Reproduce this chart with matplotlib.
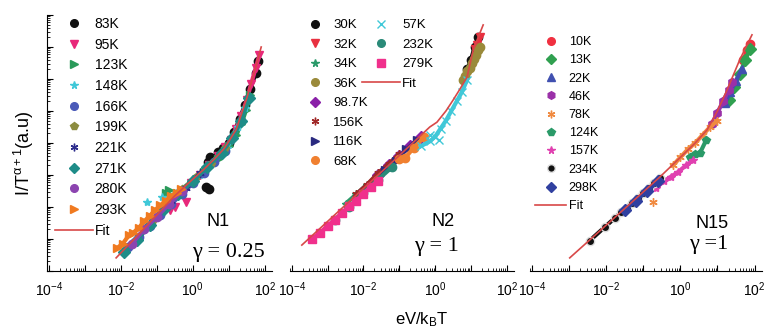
import numpy as np
import matplotlib
matplotlib.use("Agg")
import matplotlib.pyplot as plt
from matplotlib.ticker import LogLocator, NullFormatter
from matplotlib.lines import Line2D

plt.rcParams['font.family'] = ['Liberation Sans', 'DejaVu Sans']
plt.rcParams['mathtext.fontset'] = 'custom'
plt.rcParams['mathtext.rm'] = 'Liberation Sans'
plt.rcParams['mathtext.it'] = 'Liberation Sans:italic'
plt.rcParams['mathtext.default'] = 'regular'

# all data below are log10 values
# (x = eV/kBT, y = I/T^(a+1) in arbitrary units)
# each series = its dense band of points; *_out = the few points lying off the band

# ---- panel N1 ----
n1_labels = ['83K', '95K', '123K', '148K', '166K', '199K', '221K', '271K', '280K', '293K']
n1_colors = ['#111111', '#e8287a', '#2a9a5a', '#40c8d8', '#4a5ab8', '#8c8c40', '#2c2c8c', '#1e8c88', '#8c44b0', '#f07a20']
n1_markers = ['o', 'v', '>', '*', 'o', 'p', (6, 2, 0), 'D', 'o', '>']
n1_lx = [
    [0.55, 0.71, 0.85, 1.0, 1.15, 1.3, 1.45, 1.6, 1.75, 1.82],
    [-0.3, -0.05, 0.2, 0.45, 0.7, 0.9, 1.05, 1.2, 1.35, 1.5, 1.62, 1.75, 1.85],
    [0.3, 0.7, 1.0, 1.2, 1.35, 1.48, 1.6],
    [-0.5, 0.2, 0.6, 0.95, 1.25, 1.45],
    [-1.8, -1.5, -1.2, -0.9, -0.6, -0.3, 0.0, 0.3, 0.6, 0.9],
    [-1.1, -0.7, -0.3, 0.1, 0.5, 0.9],
    [-1.4, -1.0, -0.6, -0.2, 0.2],
    [-1.9, -1.55, -1.2, -0.8, -0.4, 0.0, 0.4, 0.8, 1.1, 1.35, 1.55],
    [-1.7, -1.35, -1.0, -0.65, -0.3],
    [-2.1, -1.95, -1.77, -1.65, -1.5, -1.35, -1.2, -1.05, -0.9, -0.75, -0.6, -0.45, -0.34],
]
n1_ly = [
    [3.5, 3.72, 3.85, 4.0, 4.35, 4.75, 5.2, 5.7, 6.19, 6.55],
    [2.5, 2.75, 3.0, 3.3, 3.6, 3.88, 4.1, 4.45, 4.85, 5.35, 5.85, 6.35, 6.75],
    [3.1, 3.5, 3.9, 4.25, 4.6, 5.03, 5.5],
    [2.4, 3.0, 3.4, 3.85, 4.5, 5.1],
    [0.75, 1.05, 1.4, 1.75, 2.1, 2.4, 2.75, 3.05, 3.4, 3.75],
    [1.6, 2.1, 2.55, 2.95, 3.35, 3.85],
    [1.25, 1.7, 2.2, 2.6, 3.05],
    [0.6, 0.97, 1.45, 1.95, 2.4, 2.8, 3.25, 3.7, 4.15, 4.7, 5.4],
    [0.85, 1.3, 1.7, 2.1, 2.5],
    [0.72, 0.85, 1.12, 1.2, 1.35, 1.55, 1.72, 1.9, 2.05, 2.2, 2.35, 2.45, 2.55],
]
n1_out_idx = [0, 0, 0, 0, 1, 1, 1, 2, 2, 2, 3, 3]
n1_out_lx = [0.38, 0.45, 0.49, 0.42, -0.62, -0.2, -0.5, -0.67, -0.45, -0.75, -1.28, -0.86]
n1_out_ly = [2.63, 2.55, 3.56, 3.4, 1.9, 2.16, 2.0, 2.53, 2.45, 2.45, 2.16, 2.3]
n1_fit_lx = [-2.13, -1.5, -1.0, -0.5, 0.0, 0.3, 0.6, 0.85, 1.0, 1.2, 1.35, 1.5, 1.6, 1.75, 1.9]
n1_fit_ly = [0.41, 1.15, 1.75, 2.35, 2.87, 3.17, 3.5, 3.8, 4.05, 4.41, 4.9, 5.4, 5.8, 6.38, 7.0]

# ---- panel N2 ----
n2_labels = ['30K', '32K', '34K', '36K', '98.7K', '156K', '116K', '68K', '57K', '232K', '279K']
n2_colors = ['#111111', '#e83040', '#2a9a6a', '#9a8a3a', '#8a20a8', '#a02828', '#2a2a80', '#f08030', '#40c8d8', '#2a8a78', '#f0308c']
n2_markers = ['o', 'v', '*', 'o', 'D', (6, 2, 0), '>', 'o', 'x', 'o', 's']
n2_lx = [
    [0.9, 1.0, 1.1, 1.2],
    [1.1, 1.17, 1.25],
    [-2.5, -2.2, -1.9, -1.6],
    [0.78, 0.84, 0.9, 0.96, 1.02, 1.08, 1.14, 1.2, 1.25],
    [-1.6, -1.3, -1.0, -0.7, -0.4],
    [-2.2, -1.9, -1.6, -1.3, -1.0],
    [-1.4, -1.1, -0.8, -0.5],
    [-1.0, -0.84, -0.6, -0.3],
    [-0.4, -0.15, 0.0, 0.15, 0.3, 0.45, 0.6, 0.75, 0.89],
    [-2.8, -2.4, -2.0, -1.6, -1.2],
    [-3.45, -3.2, -3.0, -2.8, -2.6, -2.4, -2.2, -2.0, -1.8, -1.6],
]
n2_ly = [
    [6.3, 6.6, 7.0, 7.3],
    [6.95, 7.06, 7.3],
    [2.1, 2.4, 2.7, 3.0],
    [5.97, 6.1, 6.25, 6.35, 6.5, 6.62, 6.75, 6.9, 7.0],
    [3.0, 3.3, 3.6, 3.9, 4.2],
    [2.4, 2.7, 3.05, 3.35, 3.65],
    [3.15, 3.45, 3.8, 4.1],
    [3.5, 3.53, 3.85, 4.2],
    [3.9, 4.05, 4.2, 4.45, 4.7, 5.0, 5.3, 5.6, 5.97],
    [1.6, 2.0, 2.45, 2.85, 3.25],
    [1.0, 1.2, 1.42, 1.6, 1.82, 2.02, 2.2, 2.42, 2.62, 2.82],
]
n2_out_idx = [8, 8]
n2_out_lx = [-0.15, 0.1]
n2_out_ly = [4.25, 4.1]
n2_fit_lx = [-3.72, -3.0, -2.0, -1.0, -0.15, 0.05, 0.3, 0.5, 0.7, 0.89, 1.06, 1.2, 1.34]
n2_fit_ly = [0.81, 1.55, 2.58, 3.61, 4.5, 4.65, 5.0, 5.34, 5.7, 6.06, 6.9, 7.3, 7.69]

# ---- panel N15 ----
n3_labels = ['10K', '13K', '22K', '46K', '78K', '124K', '157K', '234K', '298K']
n3_colors = ['#f03040', '#30a050', '#4050b0', '#9a30a8', '#f08a40', '#2a9a68', '#e040b0', '#111111', '#3040a0']
n3_markers = ['o', 'D', '^', 'h', (6, 2, 0), 'p', '*', 'o', 'D']
n3_lx = [
    [1.7, 1.8, 1.88],
    [1.3, 1.45, 1.6, 1.75, 1.88],
    [1.2, 1.35, 1.5, 1.65],
    [0.85, 1.0, 1.15, 1.3, 1.4],
    [-0.2, 0.0, 0.2, 0.4, 0.6, 0.8, 1.0],
    [0.25, 0.4, 0.53, 0.7],
    [-0.65, -0.45, -0.25, -0.05, 0.15, 0.35],
    [-2.44, -2.03, -1.76, -1.6, -1.45, -1.3, -1.15, -1.0, -0.85, -0.7, -0.55],
    [-1.5, -1.2, -0.9, -0.6],
]
n3_ly = [
    [6.6, 6.9, 7.1],
    [5.35, 5.75, 6.15, 6.6, 6.95],
    [5.25, 5.6, 5.95, 6.3],
    [4.6, 4.95, 5.3, 5.65, 5.9],
    [3.3, 3.55, 3.8, 4.0, 4.25, 4.5, 4.7],
    [3.55, 3.65, 3.69, 4.1],
    [2.6, 2.8, 2.95, 3.1, 3.3, 3.47],
    [0.95, 1.38, 1.66, 1.83, 1.98, 2.14, 2.29, 2.45, 2.6, 2.76, 2.92],
    [1.9, 2.2, 2.5, 2.8],
]
n3_out_idx = [4]
n3_out_lx = [-0.74]
n3_out_ly = [2.16]
n3_fit_lx = [-2.98, -2.0, -1.0, -0.55, 0.0, 0.4, 0.72, 1.0, 1.26, 1.6, 1.93]
n3_fit_ly = [0.41, 1.43, 2.47, 2.94, 3.55, 4.0, 4.41, 5.0, 5.66, 6.6, 7.38]

fit_color = '#d84848'
xticks = [1e-4, 1e-3, 1e-2, 1e-1, 1e0, 1e1, 1e2]
xticklabels = ['$10^{-4}$', '', '$10^{-2}$', '', '$10^{0}$', '', '$10^{2}$']

W, H = 767, 332
fig = plt.figure(figsize=(W / 100, H / 100), dpi=100)


def px_axes(left, right, top, bottom):
    return fig.add_axes([left / W, 1 - bottom / H, (right - left) / W, (bottom - top) / H])


def setup(ax, show_y):
    ax.set_xscale('log')
    ax.set_yscale('log')
    ax.set_xlim(10 ** -4.05, 10 ** 2.2)
    ax.set_ylim(1, 1e8)
    ax.set_xticks(xticks)
    ax.set_xticklabels(xticklabels)
    ax.xaxis.set_minor_locator(LogLocator(base=10, subs=np.arange(2, 10), numticks=20))
    ax.xaxis.set_minor_formatter(NullFormatter())
    ax.tick_params(axis='x', which='major', direction='in', length=4, width=0.8, labelsize=10, pad=7)
    ax.tick_params(axis='x', which='minor', direction='in', length=2, width=0.6)
    ax.spines['top'].set_visible(False)
    ax.spines['right'].set_visible(False)
    if show_y:
        ax.yaxis.set_major_locator(LogLocator(base=10, numticks=20))
        ax.yaxis.set_minor_locator(LogLocator(base=10, subs=np.arange(2, 10), numticks=20))
        ax.yaxis.set_major_formatter(NullFormatter())
        ax.yaxis.set_minor_formatter(NullFormatter())
        ax.tick_params(axis='y', which='major', direction='in', length=4, width=0.8)
        ax.tick_params(axis='y', which='minor', direction='in', length=2, width=0.6)
    else:
        ax.spines['left'].set_visible(False)
        ax.tick_params(axis='y', which='both', left=False, labelleft=False)
    ax.patch.set_alpha(0)


def draw(ax, lxs, lys, colors, markers, out_idx, out_lx, out_ly, fit_lx, fit_ly, edges=None):
    for i in range(len(lxs)):
        c = colors[i]
        ec = edges[i] if edges is not None else c
        ax.plot(10 ** np.array(lxs[i]), 10 ** np.array(lys[i]), ls='-', lw=3, marker=markers[i],
                ms=6, color=c, mec=ec, mew=1.0)
        for k in range(len(out_idx)):
            if out_idx[k] == i:
                ax.plot(10 ** out_lx[k], 10 ** out_ly[k], ls='none', marker=markers[i],
                        ms=6, color=c, mec=ec, mew=1.0)
    ax.plot(10 ** np.array(fit_lx), 10 ** np.array(fit_ly), color=fit_color, lw=1.2)


def handles_for(colors, markers, edges=None):
    hs = []
    for i in range(len(colors)):
        ec = edges[i] if edges is not None else colors[i]
        hs.append(Line2D([], [], ls='none', marker=markers[i], ms=5.5, color=colors[i], mec=ec, mew=1.0))
    return hs


fit_handle = Line2D([], [], color=fit_color, lw=1.2)

ax1 = px_axes(47, 272, 15, 271)
ax2 = px_axes(290, 514, 15, 271)
ax3 = px_axes(530, 762, 15, 271)
setup(ax1, True)
setup(ax2, False)
setup(ax3, False)

draw(ax1, n1_lx, n1_ly, n1_colors, n1_markers, n1_out_idx, n1_out_lx, n1_out_ly, n1_fit_lx, n1_fit_ly)
draw(ax2, n2_lx, n2_ly, n2_colors, n2_markers, n2_out_idx, n2_out_lx, n2_out_ly, n2_fit_lx, n2_fit_ly)
n3_edges = [c for c in n3_colors]
n3_edges[7] = '#dddddd'
draw(ax3, n3_lx, n3_ly, n3_colors, n3_markers, n3_out_idx, n3_out_lx, n3_out_ly, n3_fit_lx, n3_fit_ly, n3_edges)

# legends
leg_kw = dict(loc='upper left', bbox_transform=fig.transFigure, frameon=False,
              borderpad=0, borderaxespad=0, numpoints=1)
ax1.legend(handles_for(n1_colors, n1_markers) + [fit_handle], n1_labels + ['Fit'],
           bbox_to_anchor=(55 / W, 1 - 17 / H), fontsize=10, handlelength=2.7,
           handletextpad=0.15, labelspacing=0.48, **leg_kw)

h2 = handles_for(n2_colors, n2_markers)
leg2a = ax2.legend(h2[:8], n2_labels[:8], bbox_to_anchor=(300 / W, 1 - 19 / H), fontsize=9.5,
                   handlelength=2.3, handletextpad=0.2, labelspacing=0.55, **leg_kw)
ax2.add_artist(leg2a)
ax2.legend(h2[8:] + [fit_handle], n2_labels[8:] + ['Fit'], bbox_to_anchor=(362 / W, 1 - 19 / H),
           fontsize=9.5, handlelength=2.9, handletextpad=0.15, labelspacing=0.55, **leg_kw)

ax3.legend(handles_for(n3_colors, n3_markers, n3_edges) + [fit_handle], n3_labels + ['Fit'],
           bbox_to_anchor=(535 / W, 1 - 36 / H), fontsize=9, handlelength=2.5,
           handletextpad=0.2, labelspacing=0.5, **leg_kw)

# panel annotations
fig.text(218 / W, 1 - 221 / H, 'N1', fontsize=13, ha='center', va='center')
fig.text(228 / W, 1 - 252 / H, 'γ = 0.25', fontsize=16, ha='center', va='center',
         family=['Liberation Serif', 'DejaVu Serif'])
fig.text(443 / W, 1 - 221 / H, 'N2', fontsize=13, ha='center', va='center')
fig.text(436 / W, 1 - 247 / H, 'γ = 1', fontsize=16, ha='center', va='center',
         family=['Liberation Serif', 'DejaVu Serif'])
fig.text(712 / W, 1 - 224 / H, 'N15', fontsize=13, ha='center', va='center')
fig.text(709 / W, 1 - 245 / H, 'γ =1', fontsize=16, ha='center', va='center',
         family=['Liberation Serif', 'DejaVu Serif'])

fig.text(24 / W, 1 - 153 / H, 'I/T$^{\\alpha+1}$(a.u)', fontsize=13, rotation=90,
         ha='center', va='center')
fig.text(422 / W, 1 - 320 / H, 'eV/k$_B$T', fontsize=12, ha='center', va='center')

fig.savefig('out.png', dpi=100)
